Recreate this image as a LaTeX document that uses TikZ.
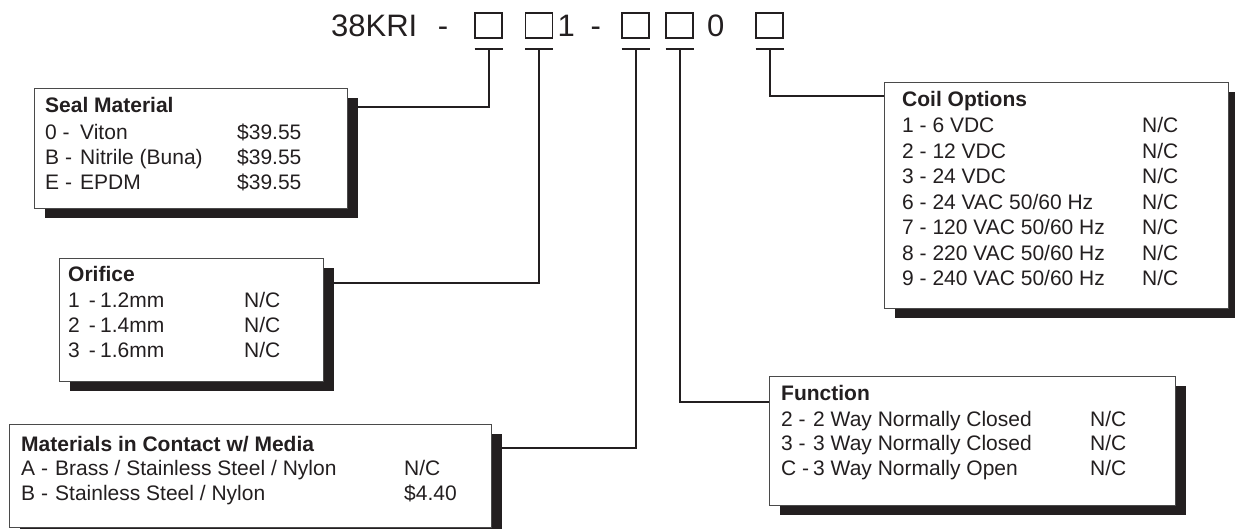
\documentclass[tikz,border=0pt]{standalone}
\usepackage{fontspec}
\setmainfont{Liberation Sans}
\usetikzlibrary{shadows}
\definecolor{ink}{HTML}{231F20}
\definecolor{frame}{HTML}{4A4A4A}
\begin{document}
\begin{tikzpicture}[x=1pt,y=-1pt,
  optbox/.style={draw=frame, line width=1.1pt, fill=white, anchor=north west, inner sep=0pt,
     drop shadow={shadow xshift=10pt, shadow yshift=-9pt, fill=ink, opacity=1}},
  conn/.style={draw=ink, line width=2pt},
  sq/.style={draw=ink, line width=1.8pt, minimum width=27pt, minimum height=25pt, inner sep=0pt},
  big/.style={text=ink, font=\fontsize{31}{36}\selectfont, anchor=base west, inner sep=0pt},
  txt/.style={text=ink, font=\fontsize{21}{25}\selectfont, anchor=base west, inner sep=0pt},
]
\useasboundingbox[fill=white] (0,0) rectangle (1235,529);

% part number
\node[big] (code) at (331,36.5) {38KRI\hspace{20.6pt}-};
\node[big] (one) at (557.5,36.5) {1};
\node[big] (dash) at (590.5,36.5) {-};
\node[big] (zero) at (707,36.5) {0};
\node[sq] (sq1) at (488.5,25.5) {};
\node[sq] (sq2) at (539,25.5) {};
\node[sq] (sq3) at (635.5,25.5) {};
\node[sq] (sq4) at (679.5,25.5) {};
\node[sq] (sq5) at (769.5,25.5) {};
\foreach \i in {1,...,5}{\path (sq\i.south) ++(0,10) coordinate (t\i);}

% option boxes
\node[optbox, minimum width=313pt, minimum height=120pt] (seal) at (34,88) {};
\node[optbox, minimum width=264pt, minimum height=123pt] (orifice) at (59,258) {};
\node[optbox, minimum width=482pt, minimum height=103pt] (materials) at (9,424) {};
\node[optbox, minimum width=406pt, minimum height=129pt] (function) at (769,376) {};
\node[optbox, minimum width=344pt, minimum height=226pt] (coil) at (884,82) {};

\node[txt] (sealtxt) at (45,113) {\begin{tabular}[t]{@{}p{35pt}@{}p{157pt}@{}l@{}}
\multicolumn{3}{@{}l@{}}{\bfseries Seal Material}\\[2pt]
0 -&Viton&\$39.55\\
B -&Nitrile (Buna)&\$39.55\\
E -&EPDM&\$39.55
\end{tabular}};

\node[txt] (orificetxt) at (68,282) {\begin{tabular}[t]{@{}p{32pt}@{}p{144pt}@{}l@{}}
\multicolumn{3}{@{}l@{}}{\bfseries Orifice}\\[1pt]
1\hspace{9pt}-&1.2mm&N/C\\
2\hspace{9pt}-&1.4mm&N/C\\
3\hspace{9pt}-&1.6mm&N/C
\end{tabular}};

\node[txt] (materialstxt) at (21,451) {\begin{tabular}[t]{@{}p{34pt}@{}p{349pt}@{}l@{}}
\multicolumn{3}{@{}l@{}}{\bfseries Materials in Contact w/ Media}\\[-1pt]
A -&Brass / Stainless Steel / Nylon&N/C\\
B -&Stainless Steel / Nylon&\$4.40
\end{tabular}};

\node[txt] (functiontxt) at (781,401) {\begin{tabular}[t]{@{}p{32pt}@{}p{277pt}@{}l@{}}
\multicolumn{3}{@{}l@{}}{\bfseries Function}\\
2 -&2 Way Normally Closed&N/C\\
3 -&3 Way Normally Closed&N/C\\
C -&3 Way Normally Open&N/C
\end{tabular}};

\node[txt, font=\fontsize{21}{25.5}\selectfont] (coiltxt) at (902,107) {\begin{tabular}[t]{@{}p{240pt}@{}l@{}}
\multicolumn{2}{@{}l@{}}{\bfseries Coil Options}\\[0.5pt]
1 - 6 VDC&N/C\\
2 - 12 VDC&N/C\\
3 - 24 VDC&N/C\\
6 - 24 VAC 50/60 Hz&N/C\\
7 - 120 VAC 50/60 Hz&N/C\\
8 - 220 VAC 50/60 Hz&N/C\\
9 - 240 VAC 50/60 Hz&N/C
\end{tabular}};

% connectors
\foreach \i in {1,...,5}{\draw[conn] ([xshift=-14pt]t\i) -- ([xshift=14pt]t\i);}
\draw[conn] (t1) |- ([yshift=-19pt]seal.north east);
\draw[conn] (t2) |- ([yshift=-25pt]orifice.north east);
\draw[conn] (t3) |- ([yshift=-24pt]materials.north east);
\draw[conn] (t4) |- ([yshift=-26pt]function.north west);
\draw[conn] (t5) |- ([yshift=-14pt]coil.north west);
\end{tikzpicture}
\end{document}
